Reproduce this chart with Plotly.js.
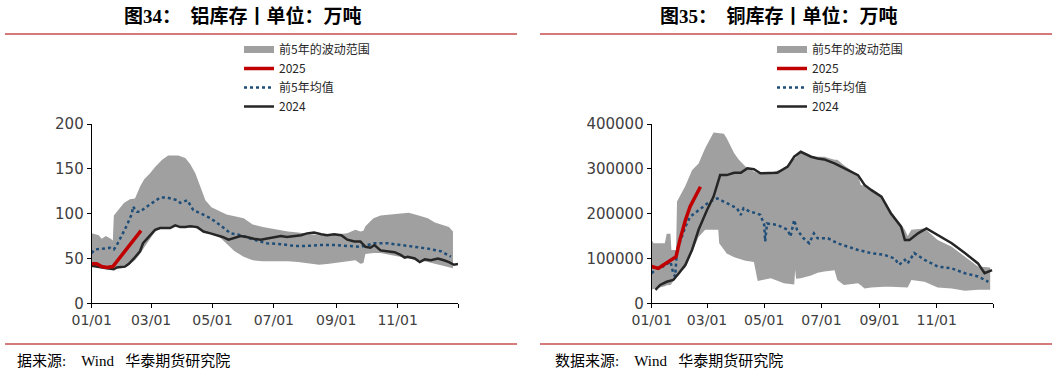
<!DOCTYPE html>
<html><head><meta charset="utf-8">
<script src="https://cdn.plot.ly/plotly-3.0.1.min.js"></script>
<style>html,body{margin:0;padding:0;background:#fff}#chart{width:1057px;height:374px}</style>
</head><body><div id="chart"></div><script>
const YEAR = '2025-';
const monthTicks = ['01-01','03-01','05-01','07-01','09-01','11-01','12-31'];
const monthTickText = ['01/01','03/01','05/01','07/01','09/01','11/01',''];

// ---- 铝库存 (万吨) ----
const alBandDates = ['01-01','01-08','01-11','01-15','01-20','01-22','01-23','01-28','02-02','02-08','02-13','02-18','02-22','02-28','03-05','03-12','03-18','03-28','04-04','04-09','04-14','04-19','04-24','04-30','05-08','05-15','05-23','06-01','06-10','06-20','07-01','07-15','07-25','08-05','08-15','08-25','09-05','09-12','09-20','09-25','09-28','09-30','10-08','10-15','10-25','11-05','11-12','11-22','12-01','12-08','12-16','12-22','12-26'];
const alBandHigh = [78,76,72,75,72,70,98,105,112,116,117,130,138,145,152,160,165,165,162,155,145,130,115,107,103,99,97,95,88,85,83,80,79,77,76,76,77,78,82,80,81,86,95,98,99,100,101,98,95,90,87,85,80];
const alBandLow  = [42,41,41,40,39,39,40,41,42,44,48,55,62,72,80,84,84,86,86,86,84,81,79,78,74,66,58,52,48,47,47,47,46,44,43,44,46,47,48,44,45,55,56,56,54,52,50,48,46,44,42,40,39];
const alMeanDates = ['01-01','01-04','01-13','01-19','01-23','01-26','01-31','02-05','02-10','02-11','02-15','02-18','02-25','03-03','03-10','03-17','03-27','03-30','04-06','04-12','04-19','04-29','05-09','05-19','05-29','06-11','06-24','07-08','07-21','08-03','08-17','08-30','09-12','09-25','10-02','10-09','10-22','11-04','11-18','12-01','12-14','12-24'];
const alMean = [56,60,61,62,60,65,76,87,100,108,102,102,108,113,118,118,115,112,115,104,100,95,87,78,76,71,67,66,64,64,65,65,64,63,65,67,67,65,63,61,58,52];
const al2025Dates = ['01-01','01-06','01-11','01-16','01-22','01-29','02-05','02-12','02-19'];
const al2025 = [44,44,41,40,41,51,61,71,81];
const al2024Dates = ['01-01','01-09','01-16','01-23','01-26','02-03','02-07','02-12','02-18','02-21','02-28','03-05','03-10','03-20','03-25','03-30','04-04','04-09','04-16','04-22','04-29','05-06','05-11','05-17','05-22','05-29','06-04','06-11','06-18','06-24','07-01','07-08','07-14','07-21','07-28','08-03','08-10','08-17','08-23','08-30','09-06','09-12','09-19','09-25','09-30','10-05','10-09','10-15','10-22','10-29','11-04','11-08','11-11','11-18','11-23','11-28','12-04','12-11','12-17','12-22','12-27','12-31'];
const al2024 = [42,40,39,38,40,41,44,50,58,67,76,82,84,84,87,85,85,86,85,80,78,76,74,71,73,75,74,72,71,72,74,75,74,75,76,78,79,77,76,77,76,71,69,69,63,62,65,59,58,57,54,51,52,50,46,49,48,50,48,46,43,44];

// ---- 铜库存 ----
const cuBandDates = ['01-01','01-03','01-15','01-17','01-21','01-22','01-27','01-28','02-06','02-13','02-20','02-27','03-08','03-13','03-14','03-19','03-22','03-30','04-04','04-11','04-20','04-24','04-29','05-08','05-22','06-02','06-03','06-04','06-09','06-20','06-27','07-04','07-15','07-18','07-25','08-09','08-12','08-16','08-23','09-03','09-06','09-13','09-20','09-28','10-01','10-05','10-19','11-02','11-17','12-01','12-15','12-28'];
const cuBandHigh = [141000,134000,134000,155000,155000,119000,119000,227000,262000,297000,312000,346000,381000,380000,379000,378000,368000,335000,320000,305000,294000,292000,288000,292000,300000,322000,324000,325000,338000,327000,327000,327000,320000,320000,308000,286000,264000,262000,253000,238000,225000,205000,185000,164000,150000,164000,167000,141000,126000,104000,82000,80000];
const cuBandLow  = [30000,32000,38000,40000,41000,43000,60000,63000,80000,115000,148000,164000,164000,164000,134000,120000,111000,103000,100000,95000,92000,50000,52000,56000,45000,42000,75000,55000,56000,62000,68000,71000,74000,52000,41000,45000,40000,33000,35000,37000,37000,37000,36000,35000,35000,52000,48000,35000,33000,28000,30000,30000];
const cuMeanDates = ['01-01','01-06','01-13','01-21','01-24','01-26','01-28','01-31','02-06','02-11','02-18','02-25','03-04','03-12','03-19','03-26','04-02','04-06','04-09','04-16','04-23','04-27','05-01','05-02','05-04','05-15','05-26','05-29','06-02','06-05','06-12','06-18','06-23','06-27','07-08','07-18','07-29','08-09','08-23','09-06','09-17','09-22','09-28','10-01','10-08','10-19','11-02','11-17','12-01','12-15','12-26'];
const cuMean = [67000,78000,82000,93000,67000,60000,119000,138000,171000,193000,204000,216000,227000,234000,227000,219000,212000,197000,212000,204000,201000,197000,175000,138000,178000,175000,164000,149000,186000,164000,145000,134000,156000,145000,145000,134000,126000,119000,112000,108000,100000,86000,97000,89000,112000,97000,82000,78000,67000,60000,48000];
const cu2025Dates = ['01-01','01-08','01-13','01-21','01-27','01-31','02-06','02-11','02-16','02-22'];
const cu2025 = [82000,78000,85000,97000,104000,141000,186000,216000,238000,260000];
const cu2024Dates = ['01-05','01-10','01-17','01-24','01-30','02-06','02-13','02-20','03-01','03-08','03-15','03-22','03-30','04-06','04-13','04-20','04-27','05-08','05-15','05-26','06-02','06-09','06-20','06-27','07-04','07-15','07-25','08-09','08-16','08-23','09-03','09-13','09-24','09-28','10-03','10-12','10-21','11-02','11-17','12-01','12-15','12-22','12-28','12-30'];
const cu2024 = [30000,41000,48000,52000,67000,86000,119000,164000,208000,238000,286000,286000,291000,291000,301000,299000,290000,291000,291000,305000,327000,338000,327000,323000,321000,312000,301000,286000,264000,253000,238000,201000,171000,141000,141000,156000,167000,152000,134000,112000,89000,67000,71000,74000];

const d = a => a.map(s => YEAR + s);
const GRAY = '#A0A0A0', RED = '#C00000', BLUE = '#1F4E79', BLACK = '#262626';

function panel(ax, lg, bd, bh, bl, md, mv, rd, rv, kd, kv) {
  const xa = ax === 1 ? 'x' : 'x2', ya = ax === 1 ? 'y' : 'y2';
  return [
    {x: d(bd), y: bl, xaxis: xa, yaxis: ya, mode: 'lines', line: {width: 0, color: GRAY}, showlegend: false, hoverinfo: 'skip'},
    {x: d(bd), y: bh, xaxis: xa, yaxis: ya, mode: 'lines', line: {width: 0, color: GRAY}, fill: 'tonexty', fillcolor: GRAY, showlegend: false, hoverinfo: 'skip'},
    {x: [null], y: [null], xaxis: xa, yaxis: ya, mode: 'lines', line: {width: 7, color: GRAY}, name: '前5年的波动范围', legend: lg, legendrank: 1},
    {x: d(md), y: mv, xaxis: xa, yaxis: ya, mode: 'lines', line: {width: 2.5, color: BLUE, dash: 'dot'}, name: '前5年均值', legend: lg, legendrank: 3},
    {x: d(kd), y: kv, xaxis: xa, yaxis: ya, mode: 'lines', line: {width: 2.5, color: BLACK}, name: '2024', legend: lg, legendrank: 4},
    {x: d(rd), y: rv, xaxis: xa, yaxis: ya, mode: 'lines', line: {width: 3.5, color: RED}, name: '2025', legend: lg, legendrank: 2}
  ];
}

const traces = [].concat(
  panel(1, 'legend', alBandDates, alBandHigh, alBandLow, alMeanDates, alMean, al2025Dates, al2025, al2024Dates, al2024),
  panel(2, 'legend2', cuBandDates, cuBandHigh, cuBandLow, cuMeanDates, cuMean, cu2025Dates, cu2025, cu2024Dates, cu2024)
);

const W = 1057, H = 374;
const px = v => v / W, py = v => 1 - v / H;
const xBase = {type: 'date', range: [YEAR + '01-01', YEAR + '12-31'], tickvals: d(monthTicks), ticktext: monthTickText,
  showline: true, linecolor: '#000', linewidth: 1, ticks: 'outside', ticklen: 4, tickcolor: '#000',
  showgrid: false, zeroline: false, fixedrange: true, tickfont: {size: 14, color: '#404040'}};
const yBase = {showline: true, linecolor: '#000', linewidth: 1, ticks: 'outside', ticklen: 4, tickcolor: '#000',
  showgrid: false, zeroline: false, fixedrange: true, tickfont: {size: 15, color: '#404040'}, domain: [py(303.3), py(124)]};
const legBase = {xanchor: 'left', yanchor: 'top', bgcolor: 'rgba(0,0,0,0)', borderwidth: 0, tracegroupgap: 0,
  traceorder: 'normal', itemwidth: 30, font: {family: 'Noto Sans CJK SC, DejaVu Sans', size: 12, color: '#262626'}};
const lineCol = '#D47A7A';
const srcFont = {family: 'Liberation Serif, Noto Sans CJK SC', size: 15, color: '#000'};
const ttlFont = {family: 'Liberation Serif, Noto Sans CJK SC', size: 19, color: '#000'};

const layout = {
  width: W, height: H, margin: {l: 0, r: 0, t: 0, b: 0}, paper_bgcolor: '#fff', plot_bgcolor: '#fff',
  font: {family: 'DejaVu Sans, Noto Sans CJK SC', size: 14, color: '#404040'},
  showlegend: true,
  xaxis: Object.assign({}, xBase, {domain: [px(91.7), px(458)], anchor: 'y'}),
  yaxis: Object.assign({}, yBase, {range: [0, 200], tick0: 0, dtick: 50, anchor: 'x'}),
  xaxis2: Object.assign({}, xBase, {domain: [px(651.7), px(993)], anchor: 'y2'}),
  yaxis2: Object.assign({}, yBase, {range: [0, 400000], tick0: 0, dtick: 100000, tickformat: 'd', anchor: 'x2'}),
  legend: Object.assign({}, legBase, {x: px(239), y: py(35)}),
  legend2: Object.assign({}, legBase, {x: px(772), y: py(35)}),
  shapes: [
    {type: 'line', xref: 'paper', yref: 'paper', x0: px(5), x1: px(517), y0: py(34), y1: py(34), line: {color: lineCol, width: 2}},
    {type: 'line', xref: 'paper', yref: 'paper', x0: px(540), x1: px(1052), y0: py(34), y1: py(34), line: {color: lineCol, width: 2}},
    {type: 'line', xref: 'paper', yref: 'paper', x0: px(5), x1: px(517), y0: py(344), y1: py(344), line: {color: lineCol, width: 2}},
    {type: 'line', xref: 'paper', yref: 'paper', x0: px(540), x1: px(1052), y0: py(344), y1: py(344), line: {color: lineCol, width: 2}}
  ],
  annotations: [
    {text: '<b>图34：\u3000铝库存丨单位：万吨</b>', xref: 'paper', yref: 'paper', x: px(242.5), y: py(16), xanchor: 'center', yanchor: 'middle', showarrow: false, font: ttlFont},
    {text: '<b>图35：\u3000铜库存丨单位：万吨</b>', xref: 'paper', yref: 'paper', x: px(778.5), y: py(16), xanchor: 'center', yanchor: 'middle', showarrow: false, font: ttlFont},
    {text: '据来源:\u00a0\u00a0\u00a0\u00a0Wind\u00a0\u00a0\u00a0华泰期货研究院', xref: 'paper', yref: 'paper', x: px(15), y: py(360), xanchor: 'left', yanchor: 'middle', showarrow: false, font: srcFont},
    {text: '数据来源:\u00a0\u00a0\u00a0\u00a0Wind\u00a0\u00a0\u00a0华泰期货研究院', xref: 'paper', yref: 'paper', x: px(553), y: py(360), xanchor: 'left', yanchor: 'middle', showarrow: false, font: srcFont}
  ]
};

Plotly.newPlot('chart', traces, layout, {staticPlot: true, displayModeBar: false});
</script></body></html>
